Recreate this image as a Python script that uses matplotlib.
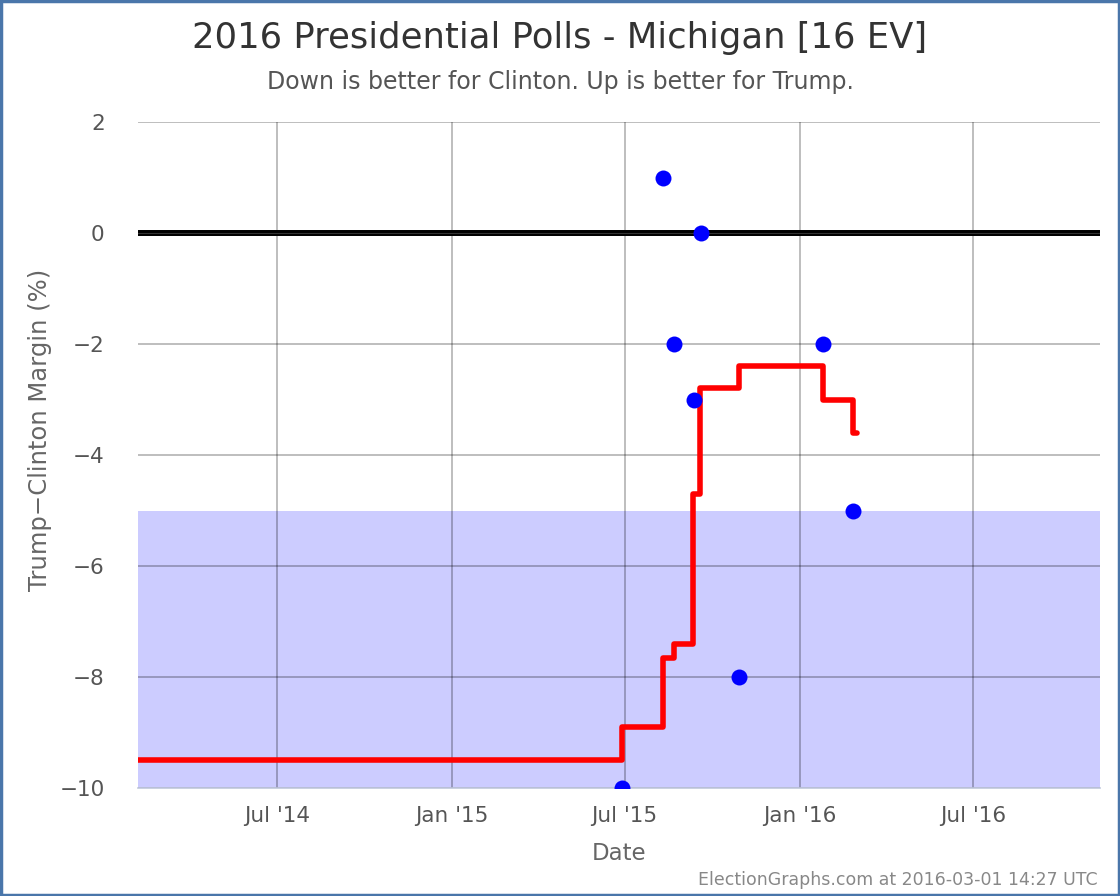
import matplotlib
matplotlib.use("Agg")
import matplotlib.pyplot as plt
from matplotlib.patches import Rectangle
import pandas as pd

# ─── data ───────────────────────────────────────────────────────────────────
POLL_DATES = ["2015-06-28", "2015-08-10", "2015-08-22", "2015-09-12",
              "2015-09-19", "2015-10-29", "2016-01-25", "2016-02-26"]
POLL_MARGINS = [-10, 1, -2, -3, 0, -8, -2, -5]

AVG_DATES = ["2014-02-05", "2015-06-28", "2015-08-10", "2015-08-22", "2015-09-11",
             "2015-09-18", "2015-10-29", "2016-01-25", "2016-02-26", "2016-03-01"]
AVG_MARGINS = [-9.5, -8.9, -7.65, -7.4, -4.7, -2.8, -2.4, -3.0, -3.6, -3.6]

X_TICKS = ["2014-07-01", "2015-01-01", "2015-07-01", "2016-01-01", "2016-07-01"]
X_TICK_LABELS = ["Jul '14", "Jan '15", "Jul '15", "Jan '16", "Jul '16"]
Y_TICKS = [2, 0, -2, -4, -6, -8, -10]

TEXT_GRAY = "#555555"
FRAME_BLUE = "#4a76aa"

plt.rcParams["font.family"] = ["DejaVu Sans"]

fig = plt.figure(figsize=(11.2, 8.96), dpi=100)
ax = fig.add_axes([0.1232, 0.1205, 0.8589, 0.7433])

ax.axhspan(-10, -5, color="#ccccff", lw=0, zorder=1)
ax.axhline(0, color="black", lw=4.3, zorder=3)
ax.axhline(0, color="#333333", lw=0.8, zorder=3.1)

ax.plot(pd.to_datetime(AVG_DATES), AVG_MARGINS, drawstyle="steps-post",
        color="#ff0000", lw=4, solid_capstyle="round", solid_joinstyle="round",
        zorder=4)
ax.plot(pd.to_datetime(POLL_DATES), POLL_MARGINS, "o", color="#0000ff",
        ms=11.5, mec="none", zorder=5)

ax.set_xlim(pd.Timestamp("2014-02-05"), pd.Timestamp("2016-11-11"))
ax.set_ylim(-10, 2)
ax.set_xticks(pd.to_datetime(X_TICKS))
ax.set_xticklabels(X_TICK_LABELS)
ax.set_yticks(Y_TICKS)
ax.set_yticklabels([str(v).replace("-", "\u2212") for v in Y_TICKS])

ax.set_axisbelow("line")
ax.grid(True, color="black", alpha=0.3, lw=1.2)
for side in ("left", "right", "top"):
    ax.spines[side].set_visible(False)
ax.spines["bottom"].set_color("#c0c8dc")
ax.spines["bottom"].set_linewidth(1.2)
ax.tick_params(axis="both", length=0, labelsize=15.5, labelcolor=TEXT_GRAY)
ax.tick_params(axis="y", pad=24)
ax.tick_params(axis="x", pad=13)

ax.set_xlabel("Date", fontsize=16.5, color="#666666", va="center")
ax.xaxis.set_label_coords(0.5, -0.0976)
ax.set_ylabel("Trump\u2212Clinton Margin (%)", fontsize=17.5, color="#666666", va="center")
ax.yaxis.set_label_coords(-0.102, 0.5375)

fig.text(0.5, 0.958, "2016 Presidential Polls - Michigan [16 EV]",
         ha="center", va="center", fontsize=25.5, color="#333333")
fig.text(0.5, 0.909, "Down is better for Clinton. Up is better for Trump.",
         ha="center", va="center", fontsize=17, color="#555555")
fig.text(0.980, 0.018, "ElectionGraphs.com at 2016-03-01 14:27 UTC",
         ha="right", va="center", fontsize=12.5, color="#888888")

fig.patches.append(Rectangle((0.001, 0.001), 0.998, 0.998, transform=fig.transFigure,
                             fill=False, ec=FRAME_BLUE, lw=2.5))

fig.savefig("out.png", dpi=100)
